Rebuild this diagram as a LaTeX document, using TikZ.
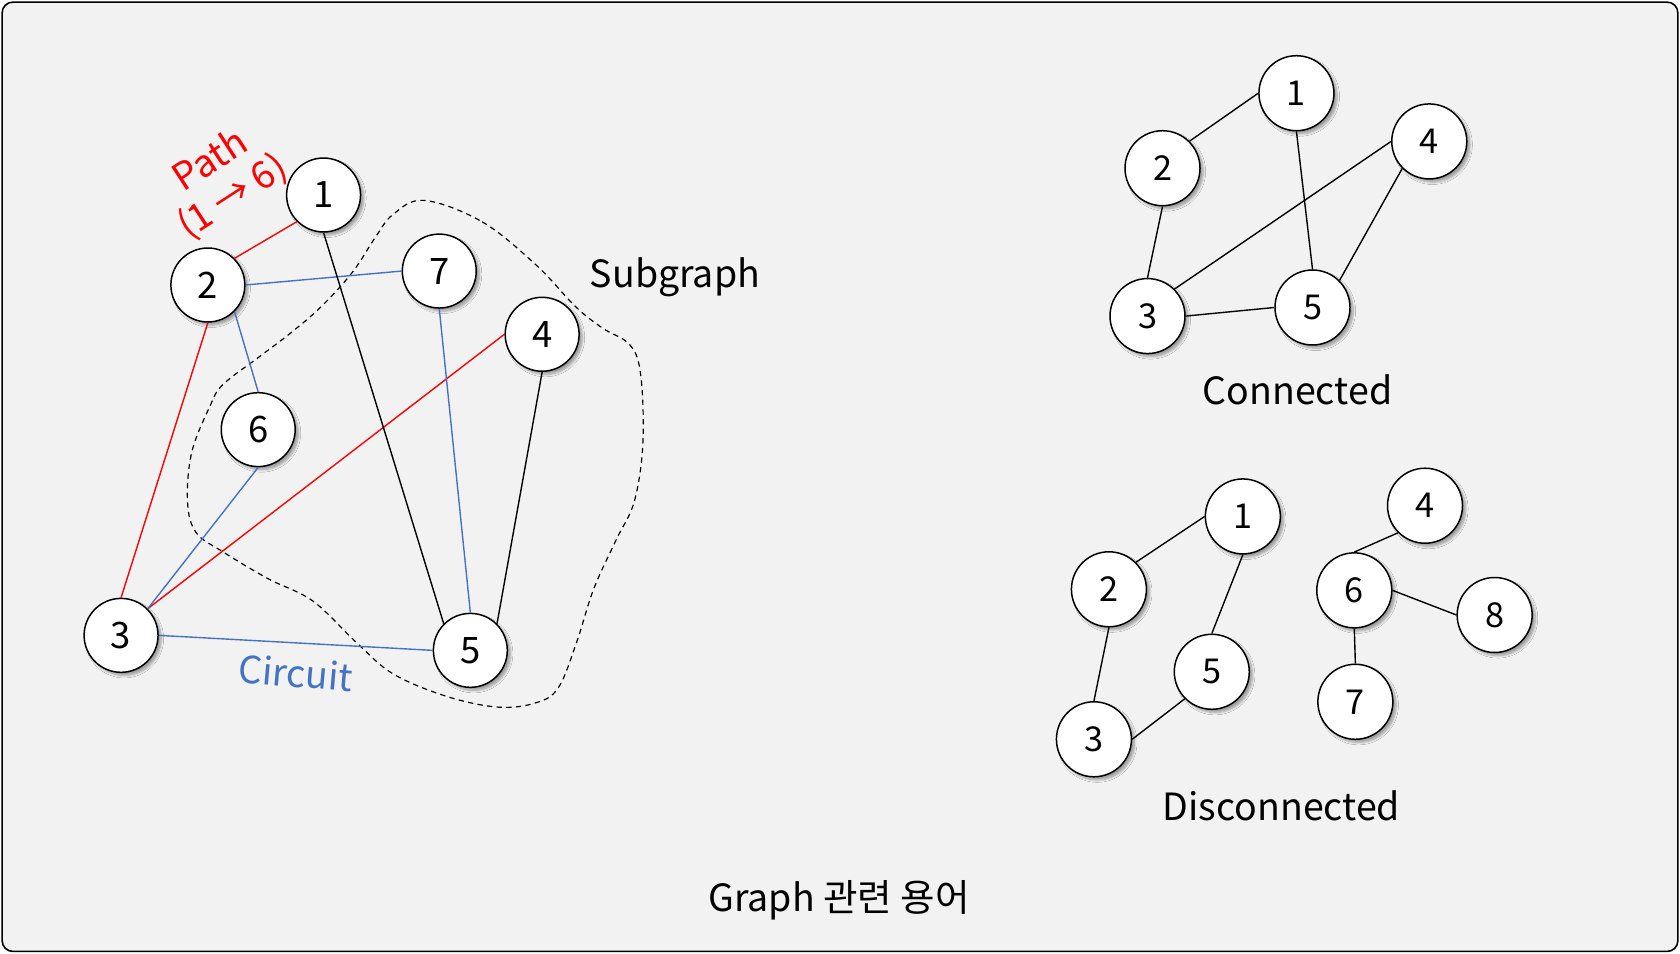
\documentclass[tikz,border=0pt]{standalone}
\usepackage{fontspec}
\setmainfont{Noto Sans CJK KR}
\usetikzlibrary{shadows.blur}
\definecolor{bg}{HTML}{F2F2F2}
\definecolor{cblue}{HTML}{4472C4}
\definecolor{cred}{HTML}{FF0000}
\begin{document}
\begin{tikzpicture}[x=1pt,y=1pt,
  vtx/.style={circle,draw=black,line width=1.4pt,fill=white,minimum size=69pt,inner sep=0pt,
    font=\fontsize{34}{34}\selectfont,blur shadow={shadow xshift=3pt,shadow yshift=-3pt,shadow blur steps=6,shadow opacity=35}},
  svtx/.style={vtx,minimum size=70pt,font=\fontsize{32}{32}\selectfont},
  edge/.style={line width=1.3pt,black},
  redge/.style={line width=1.3pt,cred},
  bedge/.style={line width=1.3pt,cblue},
  lbl/.style={font=\fontsize{35}{35}\selectfont,inner sep=0pt}]
\useasboundingbox (0,0) rectangle (1568,-890);
\draw[fill=bg,line width=1.5pt,rounded corners=10pt] (2,-2) rectangle (1566,-888);

% subgraph dashed region
\draw[dashed,line width=1.1pt,dash pattern=on 5pt off 4pt] plot[smooth cycle,tension=0.6] coordinates {
 (396,-187) (450,-207) (500,-247) (537,-286) (562,-306) (588,-322) (598,-350) (600,-414)
 (592,-468) (575,-504) (554,-550) (538,-600) (521,-642) (500,-656) (465,-660) (417,-650) (367,-629)
 (333,-600) (292,-561) (250,-540) (208,-515) (183,-497) (175,-468) (179,-422)
 (196,-379) (208,-359) (242,-333) (271,-311) (300,-286) (329,-254) (350,-222) (367,-200)};

% left graph
\node[vtx] (L1) at (302,-182) {1};
\node[vtx] (L2) at (194,-266) {2};
\node[vtx] (L7) at (410,-253) {7};
\node[vtx] (L4) at (506,-312) {4};
\node[vtx] (L6) at (241,-401) {6};
\node[vtx] (L3) at (113,-593) {3};
\node[vtx] (L5) at (439,-607) {5};
\draw[redge] (L1.south west) -- (L2.north east);
\draw[redge] (L2.south) -- (L3.north);
\draw[redge] (L3.north east) -- (L4.west);
\draw[bedge] (L2.east) -- (L7.west);
\draw[bedge] (L2.south east) -- (L6.north);
\draw[bedge] (L6.south) -- (L3.north east);
\draw[bedge] (L3.east) -- (L5.west);
\draw[bedge] (L7.south) -- (L5.north);
\draw[edge] (L1.south) -- (L5.north west);
\draw[edge] (L4.south) -- (L5.north east);

\node[lbl,text=cred,rotate=33] (path) at (195,-148) {Path};
\node[lbl,text=cred,rotate=33] (pathb) at (217,-184) {(1 → 6)};
\node[lbl] (sub) at (630,-259) {Subgraph};
\node[lbl,text=cblue,rotate=-5] (circ) at (276,-628) {Circuit};

% connected graph
\node[svtx] (C1) at (1210,-87) {1};
\node[svtx] (C2) at (1085,-157) {2};
\node[svtx] (C4) at (1334,-132) {4};
\node[svtx] (C3) at (1071,-295) {3};
\node[svtx] (C5) at (1225,-287) {5};
\draw[edge] (C1.west) -- (C2.north east);
\draw[edge] (C2.south) -- (C3.north);
\draw[edge] (C1.south) -- (C5.north);
\draw[edge] (C3.north east) -- (C4.west);
\draw[edge] (C3.east) -- (C5.west);
\draw[edge] (C4.south west) -- (C5.north east);
\node[lbl] (conn) at (1211,-364) {Connected};

% disconnected graph
\node[svtx] (D1) at (1160,-482) {1};
\node[svtx] (D2) at (1035,-550) {2};
\node[svtx] (D5) at (1131,-627) {5};
\node[svtx] (D3) at (1021,-690) {3};
\node[svtx] (D4) at (1330,-472) {4};
\node[svtx] (D6) at (1264,-551) {6};
\node[svtx] (D8) at (1395,-574) {8};
\node[svtx] (D7) at (1265,-655) {7};
\draw[edge] (D1.west) -- (D2.north east);
\draw[edge] (D2.south) -- (D3.north);
\draw[edge] (D3.east) -- (D5.south west);
\draw[edge] (D5.north) -- (D1.south);
\draw[edge] (D4.south west) -- (D6.north);
\draw[edge] (D6.east) -- (D8.west);
\draw[edge] (D6.south) -- (D7.north);
\node[lbl] (disc) at (1196,-752) {Disconnected};

\node[lbl] (title) at (783,-840) {Graph 관련 용어};
\end{tikzpicture}
\end{document}
